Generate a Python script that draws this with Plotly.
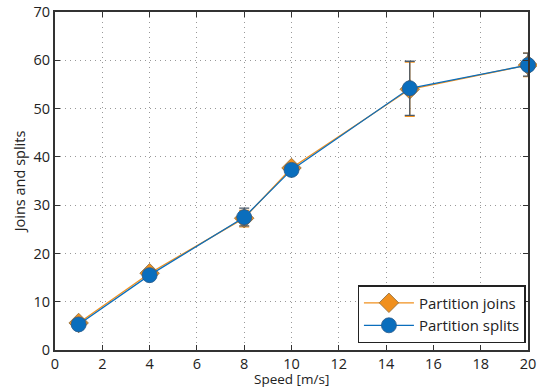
import plotly.graph_objects as go

speed = [1, 4, 8, 10, 15, 20]
joins = [5.6, 15.9, 27.3, 37.7, 54.0, 59.0]
joins_err_plus = [0.6, 0.7, 1.6, 0.6, 5.6, 2.5]
joins_err_minus = [0.6, 0.7, 1.8, 0.6, 5.6, 2.4]
splits = [5.3, 15.5, 27.5, 37.3, 54.2, 59.0]
splits_err_plus = [0.5, 0.6, 1.9, 0.5, 5.6, 2.5]
splits_err_minus = [0.5, 0.6, 1.8, 0.5, 5.6, 2.3]

orange = "#F0901E"
blue = "#0A6EBD"

fig = go.Figure()
fig.add_trace(go.Scatter(
    x=speed, y=joins, mode="lines+markers", name="Partition joins",
    line=dict(color=orange, width=1.3),
    marker=dict(symbol="diamond", size=15, color=orange, line=dict(color="#8a6a3a", width=0.8)),
    error_y=dict(type="data", array=joins_err_plus, arrayminus=joins_err_minus,
                 color=orange, thickness=1.3, width=5),
    cliponaxis=False,
))
fig.add_trace(go.Scatter(
    x=speed, y=splits, mode="lines+markers", name="Partition splits",
    line=dict(color=blue, width=1.3),
    marker=dict(symbol="circle", size=15, color=blue, line=dict(color="#2a5a8a", width=0.8)),
    error_y=dict(type="data", array=splits_err_plus, arrayminus=splits_err_minus,
                 color="#4a5a6a", thickness=1.3, width=5),
    cliponaxis=False,
))

axis_common = dict(
    showline=True, linecolor="#333333", linewidth=2, mirror="ticks",
    ticks="inside", ticklen=5, tickcolor="#333333",
    showgrid=True, gridcolor="#999999", griddash="1px,4px", gridwidth=1,
    zeroline=False, tickfont=dict(size=14.5, color="#222222"),
    ticklabeloverflow="allow", automargin=False,
)

fig.update_layout(
    width=537, height=389,
    margin=dict(l=55, r=9, t=12, b=39),
    paper_bgcolor="white", plot_bgcolor="white",
    font=dict(family="Open Sans, sans-serif", color="#222222"),
    xaxis=dict(range=[0, 20], dtick=2, **axis_common),
    yaxis=dict(range=[0, 70], dtick=10, title=dict(text="Joins and splits", font=dict(size=14.5), standoff=4), **axis_common),
    legend=dict(x=0.995, y=0.02, xanchor="right", yanchor="bottom",
                bgcolor="white", bordercolor="#222222", borderwidth=1.3,
                font=dict(size=15), itemwidth=50, tracegroupgap=0),
    showlegend=True,
    annotations=[dict(text="Speed [m/s]", xref="paper", yref="paper", x=0.5, y=-0.1154,
                      xanchor="center", yanchor="bottom", showarrow=False, borderpad=0,
                      font=dict(size=13.5, color="#222222"))],
)

fig.write_html("out.html", config={"displayModeBar": False},
               post_script="document.body.style.margin='0';document.body.style.overflow='hidden';")
